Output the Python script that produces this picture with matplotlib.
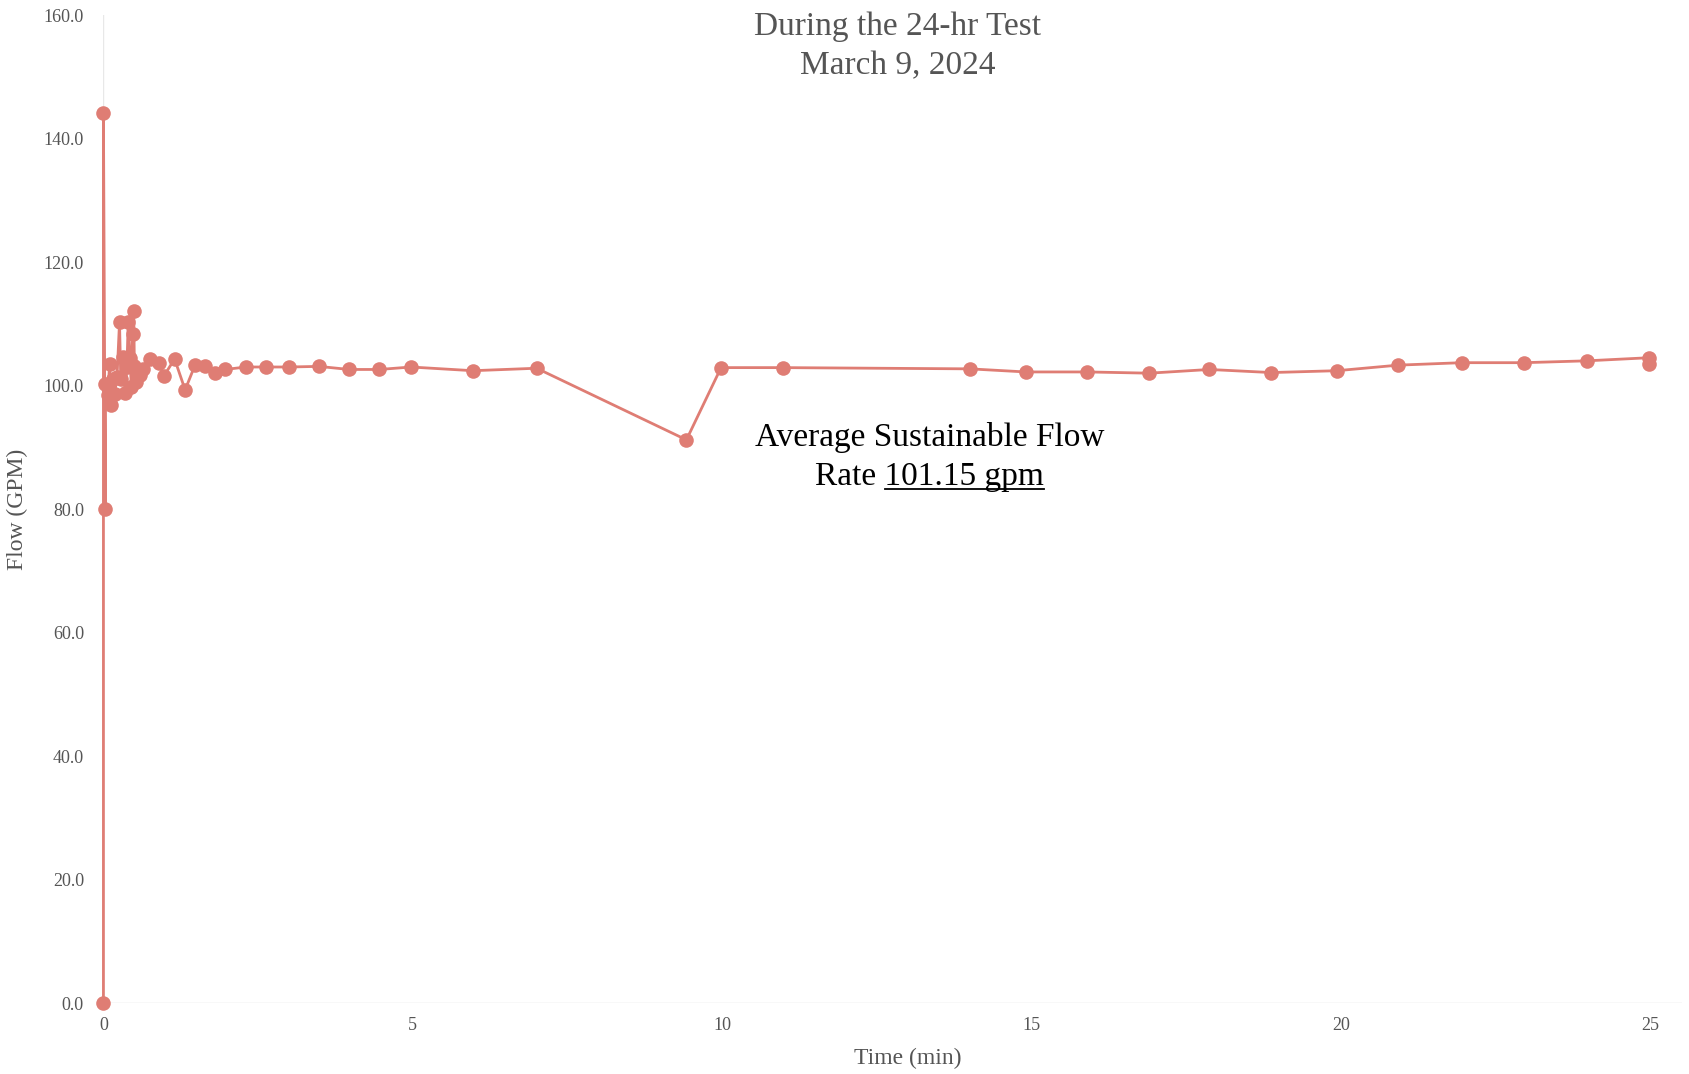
import matplotlib
matplotlib.use("Agg")
import matplotlib.pyplot as plt
from matplotlib.ticker import FormatStrFormatter

# ------------------------------------------------------------------------------
# DATA
# ------------------------------------------------------------------------------
time_min = [0.0, 0.0, 0.03, 0.03, 0.07, 0.10, 0.12, 0.15, 0.18, 0.22,
            0.26, 0.28, 0.31, 0.35, 0.38, 0.40, 0.43, 0.45, 0.47, 0.49,
            0.50, 0.52, 0.55, 0.59, 0.64, 0.75, 0.89, 0.98, 1.15, 1.32,
            1.48, 1.64, 1.80, 1.97, 2.30, 2.63, 3.00, 3.48, 3.97, 4.46,
            4.97, 5.97, 7.00, 9.42, 9.98, 10.98, 14.0, 14.9, 15.9, 16.9,
            17.87, 18.87, 19.93, 20.92, 21.95, 22.96, 23.97, 24.97, 24.97]
flow_gpm = [0.0, 144.2, 80.0, 100.2, 98.5, 103.5, 96.8, 101.0, 98.6, 101.4,
            110.3, 101.0, 104.7, 98.8, 103.0, 110.3, 104.5, 99.8, 108.4, 112.0,
            103.1, 100.5, 102.3, 101.7, 102.6, 104.3, 103.6, 101.6, 104.3, 99.3,
            103.3, 103.1, 102.1, 102.6, 103.0, 103.0, 103.0, 103.1, 102.6, 102.6,
            103.0, 102.4, 102.8, 91.2, 102.9, 102.9, 102.7, 102.2, 102.2, 102.0,
            102.6, 102.1, 102.4, 103.3, 103.7, 103.7, 104.0, 104.5, 103.5]

x_ticks = [0, 5, 10, 15, 20, 25]
y_ticks = [0, 20, 40, 60, 80, 100, 120, 140, 160]

title_lines = ["During the 24-hr Test", "March 9, 2024"]
avg_flow = 101.15

# ------------------------------------------------------------------------------
# PLOT
# ------------------------------------------------------------------------------
plt.rcParams['font.family'] = ['Liberation Serif', 'DejaVu Serif']

line_color = "#df7d74"
text_grey = "#555555"

fig = plt.figure(figsize=(16.9, 10.74), dpi=100)
ax = fig.add_axes([0.0612, 0.0661, 0.9338, 0.9199])

ax.plot(time_min, flow_gpm, color=line_color, lw=2.0, marker="o",
        markersize=10.5, markeredgewidth=0, zorder=3, clip_on=False)

ax.set_xlim(0, 25.5)
ax.set_ylim(0, 160)
ax.set_xticks(x_ticks)
ax.set_yticks(y_ticks)
ax.yaxis.set_major_formatter(FormatStrFormatter("%.1f"))
ax.tick_params(axis="both", length=0, labelsize=13, labelcolor=text_grey)
ax.tick_params(axis="y", pad=14)
ax.tick_params(axis="x", pad=10)
for s in ax.spines.values():
    s.set_visible(False)

# faint baseline and zero line
ax.axhline(0, color="#e0e0e0", lw=1, zorder=1)
ax.axvline(0, color="#e8e8e8", lw=1, zorder=1)

# axis titles placed in figure pixels
fig.text(908 / 1690, 1 - 1058 / 1074, "Time (min)", ha="center", va="center",
         fontsize=17, color=text_grey)
fig.text(17 / 1690, 1 - 509 / 1074, "Flow (GPM)", ha="center", va="center",
         rotation=90, fontsize=17, color=text_grey)

fig.text(898 / 1690, 1 - 27 / 1074, title_lines[0], ha="center", va="center",
         fontsize=24, color=text_grey)
fig.text(898 / 1690, 1 - 66 / 1074, title_lines[1], ha="center", va="center",
         fontsize=24, color=text_grey)

# annotation with underlined value
ax.text(13.35, 91.6, "Average Sustainable Flow", ha="center", va="center",
        fontsize=24, color="black")
rate_txt = ax.text(13.35, 85.3, f"Rate {avg_flow:.2f} gpm", ha="center",
                   va="center", fontsize=24, color="black")
val_txt = ax.text(0, 0, f"{avg_flow:.2f} gpm", fontsize=24, alpha=0)

fig.canvas.draw()
r = fig.canvas.get_renderer()
bb = rate_txt.get_window_extent(r)
vb = val_txt.get_window_extent(r)
inv = ax.transData.inverted()
x_right = inv.transform((bb.x1, bb.y0))[0]
x_left = inv.transform((bb.x1 - vb.width, bb.y0))[0]
y_line = inv.transform((bb.x0, bb.y0 + 3))[1]
ax.plot([x_left, x_right], [y_line, y_line], color="black", lw=1.3)
val_txt.remove()

fig.savefig("out.png", dpi=100)
